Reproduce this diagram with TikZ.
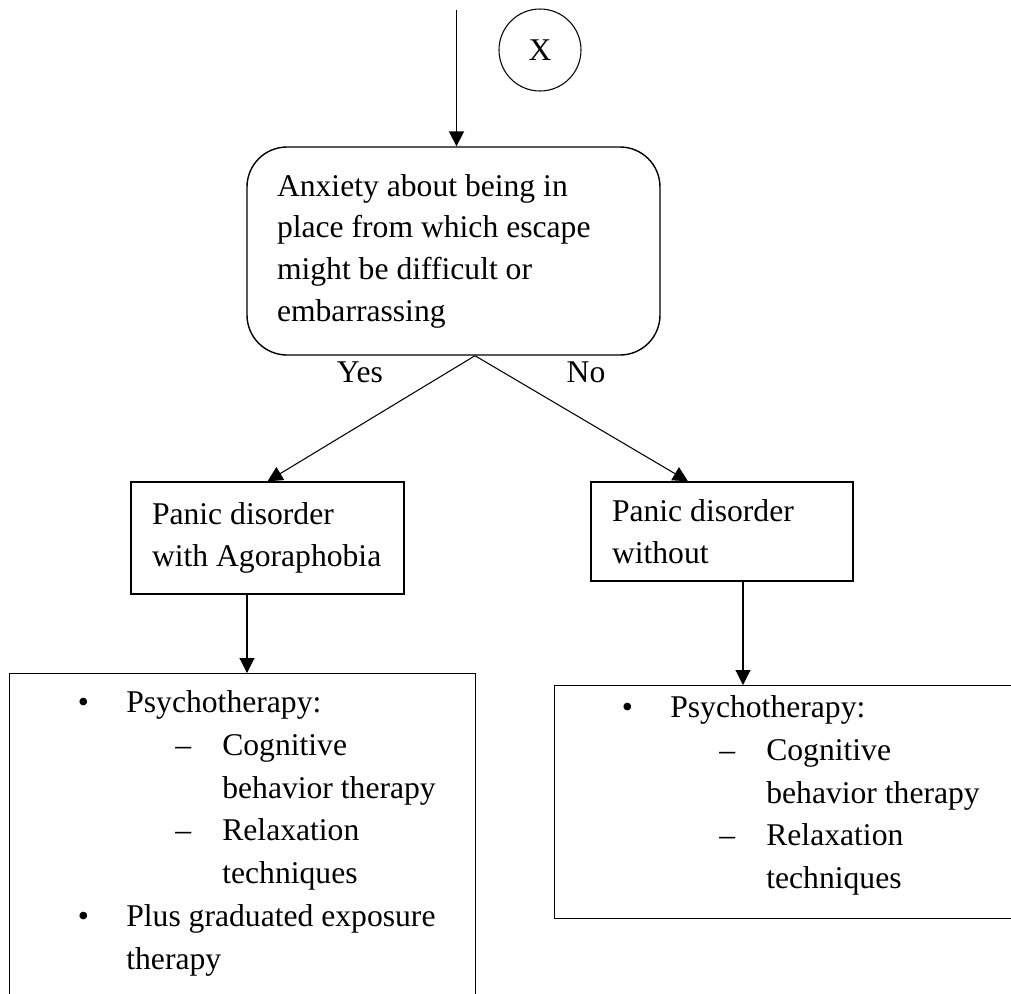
\documentclass[tikz,border=0pt]{standalone}
\usepackage{fontspec}
\setmainfont{Liberation Serif}
\usetikzlibrary{arrows.meta}
\usetikzlibrary{positioning}

% listas dentro das caixas de tratamento
\newcommand{\bulitem}[1]{\makebox[0.97cm][l]{\textbullet}#1}
\newcommand{\bulcont}[1]{\hspace*{0.97cm}#1}
\newcommand{\dashitem}[1]{\hspace*{1.95cm}\makebox[0.94cm][l]{--}#1}
\newcommand{\dashcont}[1]{\hspace*{2.89cm}#1}

\begin{document}
\begin{tikzpicture}[
    >=Triangle,
    basefont/.style={font=\fontsize{18}{23.7}\selectfont},
    plainsp/.style={execute at begin node={\spaceskip=0pt\xspaceskip=0pt\relax}},
    decision/.style={basefont, plainsp, draw, line width=0.8pt, rounded corners=0.8cm,
                     align=left, inner xsep=0.6cm},
    diag/.style={basefont, plainsp, draw, line width=0.8pt, align=left, inner xsep=0.42cm},
    treat/.style={draw, line width=0.8pt, inner sep=0pt, anchor=north west},
    listtxt/.style={font=\fontsize{18}{24.3}\selectfont, align=left, inner sep=0pt,
                    anchor=north west},
    conn/.style={-{Triangle[length=0.3cm, width=0.3cm]}, line width=0.6pt},
    lbl/.style={basefont, anchor=base}
]
\useasboundingbox (0,0) rectangle (20.22,-19.88);
\clip (0,0) rectangle (20.22,-19.88);

% =========================================================================
% ENTRADA E PERGUNTA
% =========================================================================
\coordinate (entry) at (9.13,-0.2);
\node[draw, circle, line width=0.6pt, minimum size=1.64cm, basefont] (conx) at (10.8,-1.0) {X};

\node[decision, minimum width=8.26cm, minimum height=4.16cm, text width=7.06cm]
    (anx) at (9.07,-5.02)
    {Anxiety about being in\\place from which escape\\might be difficult or\\embarrassing};
\draw[conn, line width=1pt] (entry) -- (entry |- anx.north);

% =========================================================================
% DIAGNÓSTICOS
% =========================================================================
\node[diag, minimum width=5.46cm, minimum height=2.24cm, text width=4.62cm]
    (panicyes) at (5.35,-10.76) {Panic disorder\\with Agoraphobia};
\node[diag, minimum width=5.24cm, minimum height=1.98cm, text width=4.4cm]
    (panicno) at (14.44,-10.63) {Panic disorder\\without};

\coordinate (split) at ([xshift=0.43cm]anx.south);
\draw[conn] (split) -- (panicyes.north);
\draw[conn] (split) -- ([xshift=-0.68cm]panicno.north);

\node[lbl] (yes) at (7.2,-7.64) {Yes};
\node[lbl] (no) at (11.72,-7.64) {No};

% =========================================================================
% TRATAMENTOS
% =========================================================================
\node[treat, minimum width=9.32cm, minimum height=7cm] (treatyes) at (0.18,-13.46) {};
\node[listtxt] (treatyestxt) at ([shift={(1.37,-0.35)}]treatyes.north west)
    {\bulitem{Psychotherapy:}\\
     \dashitem{Cognitive}\\
     \dashcont{behavior therapy}\\
     \dashitem{Relaxation}\\
     \dashcont{techniques}\\
     \bulitem{Plus graduated exposure}\\
     \bulcont{therapy}};

\node[treat, minimum width=9.52cm, minimum height=4.66cm] (treatno) at (11.08,-13.7) {};
\node[listtxt] (treatnotxt) at ([shift={(1.35,-0.21)}]treatno.north west)
    {\bulitem{Psychotherapy:}\\
     \dashitem{Cognitive}\\
     \dashcont{behavior therapy}\\
     \dashitem{Relaxation}\\
     \dashcont{techniques}};

\draw[conn] ([xshift=-0.41cm]panicyes.south) -- ([xshift=-0.41cm]panicyes.south |- treatyes.north);
\draw[conn] ([xshift=0.42cm]panicno.south) -- ([xshift=0.42cm]panicno.south |- treatno.north);

\end{tikzpicture}
\end{document}
